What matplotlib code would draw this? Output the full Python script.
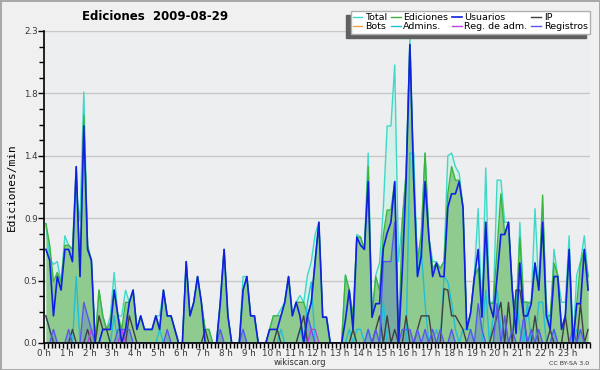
import numpy as np
import matplotlib
matplotlib.use("Agg")
import matplotlib.pyplot as plt
from matplotlib.ticker import MultipleLocator, FixedLocator

# 10-minute slots over the day (144 values per series)
total = [
    0.88, 0.62, 0.58, 0.60, 0.45, 0.79, 0.72, 0.69, 1.10, 0.90, 1.85, 0.69,
    0.60, 0.00, 0.39, 0.20, 0.10, 0.20, 0.52, 0.20, 0.20, 0.39, 0.30, 0.39,
    0.10, 0.20, 0.10, 0.10, 0.10, 0.20, 0.20, 0.39, 0.20, 0.20, 0.10, 0.00,
    0.00, 0.60, 0.20, 0.30, 0.49, 0.30, 0.10, 0.10, 0.00, 0.00, 0.30, 0.69,
    0.20, 0.00, 0.00, 0.00, 0.49, 0.49, 0.20, 0.20, 0.00, 0.00, 0.00, 0.10,
    0.20, 0.20, 0.25, 0.30, 0.49, 0.20, 0.30, 0.35, 0.30, 0.50, 0.60, 0.80,
    0.89, 0.19, 0.19, 0.00, 0.00, 0.00, 0.00, 0.50, 0.39, 0.10, 0.80, 0.78,
    0.69, 1.40, 0.19, 0.50, 0.59, 1.00, 1.60, 1.60, 2.05, 0.60, 0.90, 1.25,
    2.25, 1.20, 0.60, 0.80, 1.40, 0.78, 0.60, 0.60, 0.55, 0.60, 1.38, 1.40,
    1.30, 1.25, 1.00, 0.10, 0.22, 0.50, 0.99, 0.20, 1.29, 0.30, 0.30, 1.20,
    1.20, 0.89, 0.89, 0.39, 0.10, 0.89, 0.30, 0.30, 0.30, 0.99, 0.40, 1.00,
    0.30, 0.10, 0.69, 0.49, 0.30, 0.30, 0.79, 0.00, 0.50, 0.60, 0.79, 0.49,
]
ediciones = [
    0.88, 0.72, 0.45, 0.52, 0.45, 0.72, 0.72, 0.69, 1.30, 0.49, 1.68, 0.72,
    0.61, 0.00, 0.39, 0.20, 0.10, 0.15, 0.39, 0.20, 0.10, 0.30, 0.30, 0.39,
    0.10, 0.20, 0.10, 0.10, 0.10, 0.20, 0.10, 0.39, 0.20, 0.20, 0.10, 0.00,
    0.00, 0.60, 0.20, 0.30, 0.49, 0.30, 0.10, 0.10, 0.00, 0.00, 0.30, 0.69,
    0.20, 0.00, 0.00, 0.00, 0.39, 0.49, 0.20, 0.20, 0.00, 0.00, 0.00, 0.10,
    0.20, 0.20, 0.20, 0.30, 0.49, 0.20, 0.30, 0.30, 0.30, 0.20, 0.30, 0.60,
    0.89, 0.19, 0.19, 0.00, 0.00, 0.00, 0.00, 0.50, 0.39, 0.20, 0.78, 0.78,
    0.69, 1.30, 0.19, 0.49, 0.39, 0.80, 0.98, 0.98, 1.19, 0.00, 0.90, 1.25,
    2.20, 1.20, 0.60, 0.80, 1.40, 0.78, 0.55, 0.59, 0.55, 0.60, 1.10, 1.30,
    1.20, 1.20, 1.00, 0.10, 0.22, 0.49, 0.55, 0.20, 0.89, 0.29, 0.29, 0.69,
    1.10, 0.80, 0.89, 0.39, 0.20, 0.78, 0.30, 0.30, 0.29, 0.59, 0.39, 1.09,
    0.20, 0.20, 0.59, 0.50, 0.10, 0.20, 0.69, 0.00, 0.29, 0.59, 0.69, 0.49,
]
usuarios = [
    0.69, 0.61, 0.20, 0.49, 0.39, 0.69, 0.69, 0.60, 1.30, 0.49, 1.60, 0.69,
    0.61, 0.00, 0.00, 0.10, 0.10, 0.10, 0.39, 0.20, 0.00, 0.10, 0.30, 0.39,
    0.10, 0.20, 0.10, 0.10, 0.10, 0.20, 0.10, 0.39, 0.20, 0.20, 0.10, 0.00,
    0.00, 0.60, 0.20, 0.30, 0.49, 0.30, 0.00, 0.00, 0.00, 0.00, 0.30, 0.69,
    0.20, 0.00, 0.00, 0.00, 0.39, 0.49, 0.20, 0.20, 0.00, 0.00, 0.00, 0.10,
    0.10, 0.10, 0.20, 0.30, 0.49, 0.20, 0.30, 0.20, 0.00, 0.20, 0.30, 0.60,
    0.89, 0.19, 0.19, 0.00, 0.00, 0.00, 0.00, 0.17, 0.39, 0.10, 0.78, 0.72,
    0.69, 1.19, 0.19, 0.29, 0.29, 0.70, 0.81, 0.89, 1.19, 0.00, 0.54, 1.20,
    2.20, 1.20, 0.49, 0.64, 1.19, 0.78, 0.49, 0.59, 0.49, 0.49, 1.00, 1.10,
    1.10, 1.19, 1.00, 0.10, 0.22, 0.48, 0.69, 0.19, 0.89, 0.29, 0.19, 0.49,
    0.80, 0.80, 0.89, 0.39, 0.07, 0.59, 0.20, 0.20, 0.29, 0.59, 0.39, 0.89,
    0.20, 0.10, 0.49, 0.49, 0.10, 0.20, 0.69, 0.00, 0.29, 0.29, 0.69, 0.39,
]
ip = [
    0.20, 0.10, 0.00, 0.00, 0.00, 0.00, 0.00, 0.10, 0.00, 0.00, 0.00, 0.10,
    0.00, 0.00, 0.20, 0.10, 0.10, 0.00, 0.00, 0.00, 0.00, 0.00, 0.20, 0.10,
    0.00, 0.00, 0.00, 0.00, 0.00, 0.00, 0.00, 0.00, 0.00, 0.00, 0.00, 0.00,
    0.00, 0.00, 0.00, 0.00, 0.00, 0.00, 0.10, 0.00, 0.00, 0.00, 0.00, 0.00,
    0.00, 0.00, 0.00, 0.00, 0.00, 0.00, 0.00, 0.00, 0.00, 0.00, 0.00, 0.00,
    0.00, 0.10, 0.00, 0.00, 0.00, 0.00, 0.00, 0.10, 0.20, 0.00, 0.00, 0.00,
    0.00, 0.00, 0.00, 0.00, 0.00, 0.00, 0.00, 0.00, 0.00, 0.10, 0.00, 0.00,
    0.00, 0.00, 0.00, 0.10, 0.20, 0.00, 0.20, 0.00, 0.10, 0.00, 0.00, 0.20,
    0.00, 0.00, 0.10, 0.20, 0.20, 0.20, 0.00, 0.00, 0.00, 0.40, 0.39, 0.20,
    0.20, 0.15, 0.10, 0.00, 0.00, 0.00, 0.00, 0.00, 0.00, 0.00, 0.10, 0.20,
    0.30, 0.00, 0.30, 0.00, 0.39, 0.39, 0.20, 0.00, 0.00, 0.20, 0.00, 0.00,
    0.00, 0.10, 0.00, 0.00, 0.00, 0.20, 0.00, 0.00, 0.00, 0.29, 0.00, 0.10,
]
bots = [0.0] * 144
admins = [
    0.20, 0.10, 0.00, 0.00, 0.00, 0.00, 0.00, 0.00, 0.49, 0.00, 0.00, 0.00,
    0.00, 0.00, 0.00, 0.00, 0.00, 0.00, 0.20, 0.00, 0.00, 0.00, 0.00, 0.00,
    0.00, 0.00, 0.00, 0.00, 0.00, 0.00, 0.10, 0.00, 0.00, 0.00, 0.00, 0.00,
    0.00, 0.00, 0.00, 0.00, 0.00, 0.00, 0.00, 0.00, 0.00, 0.00, 0.00, 0.00,
    0.00, 0.00, 0.00, 0.00, 0.00, 0.00, 0.00, 0.00, 0.00, 0.00, 0.00, 0.00,
    0.00, 0.00, 0.10, 0.00, 0.00, 0.00, 0.00, 0.10, 0.00, 0.30, 0.45, 0.00,
    0.00, 0.00, 0.00, 0.00, 0.00, 0.00, 0.00, 0.00, 0.10, 0.00, 0.10, 0.10,
    0.00, 0.10, 0.00, 0.00, 0.00, 0.30, 0.00, 0.00, 0.00, 0.00, 0.00, 0.00,
    1.40, 1.40, 0.49, 0.69, 0.29, 0.00, 0.00, 0.10, 0.00, 0.49, 0.45, 0.30,
    0.10, 0.00, 0.10, 0.10, 0.10, 0.00, 0.00, 0.00, 0.39, 0.00, 0.19, 0.39,
    0.10, 0.00, 0.00, 0.00, 0.39, 0.10, 0.00, 0.30, 0.00, 0.00, 0.30, 0.30,
    0.00, 0.00, 0.10, 0.00, 0.00, 0.00, 0.00, 0.00, 0.10, 0.00, 0.00, 0.00,
]
reg_adm = [0.0] * 144
for k in (12, 20, 70, 71):
    reg_adm[k] = 0.1
registros = [
    0.00, 0.00, 0.10, 0.00, 0.00, 0.00, 0.10, 0.00, 0.00, 0.00, 0.30, 0.20,
    0.10, 0.00, 0.00, 0.00, 0.00, 0.00, 0.00, 0.10, 0.10, 0.10, 0.10, 0.00,
    0.00, 0.00, 0.00, 0.00, 0.00, 0.00, 0.00, 0.00, 0.10, 0.00, 0.00, 0.00,
    0.00, 0.00, 0.00, 0.00, 0.00, 0.00, 0.00, 0.00, 0.00, 0.00, 0.10, 0.00,
    0.00, 0.00, 0.00, 0.00, 0.10, 0.00, 0.00, 0.00, 0.00, 0.00, 0.00, 0.00,
    0.00, 0.00, 0.00, 0.00, 0.00, 0.00, 0.00, 0.00, 0.00, 0.20, 0.10, 0.00,
    0.00, 0.00, 0.00, 0.00, 0.00, 0.00, 0.00, 0.00, 0.00, 0.00, 0.00, 0.00,
    0.00, 0.10, 0.00, 0.10, 0.00, 0.60, 0.60, 0.60, 0.89, 0.00, 0.10, 0.10,
    0.10, 0.00, 0.10, 0.00, 0.10, 0.00, 0.10, 0.00, 0.10, 0.00, 0.00, 0.10,
    0.00, 0.00, 0.00, 0.00, 0.10, 0.00, 0.29, 0.10, 0.00, 0.00, 0.00, 0.29,
    0.00, 0.20, 0.00, 0.10, 0.00, 0.00, 0.19, 0.00, 0.10, 0.00, 0.10, 0.00,
    0.00, 0.00, 0.10, 0.00, 0.00, 0.00, 0.00, 0.10, 0.00, 0.10, 0.00, 0.00,
]

hours = np.arange(144) / 6.0 + 1.0 / 12.0

fig = plt.figure(figsize=(6, 3.7), dpi=100, facecolor='#f0f0f0',
                 edgecolor='#a8a8a8', linewidth=2)
ax = fig.add_axes([44 / 600, 27 / 370, 546 / 600, 312 / 370])
ax.set_facecolor('#eceef0')

# area series first, then lines on top
ax.fill_between(hours, total, color='#d6efe8', lw=0)
ax.plot(hours, total, color='#3fd8c8', lw=1.0, label='Total')
ax.fill_between(hours, ediciones, color='#8fca8f', lw=0)
ax.plot(hours, ediciones, color='#3cb43c', lw=1.0, label='Ediciones')
ax.fill_between(hours, registros, color='#3050e0', alpha=0.25, lw=0)
ax.plot(hours, bots, color='#f0a040', lw=1.0, label='Bots')
ax.plot(hours, admins, color='#20c0d8', lw=1.0, label='Admins.')
ax.plot(hours, ip, color='#404040', lw=1.0, label='IP')
ax.plot(hours, reg_adm, color='#c040e0', lw=1.0, label='Reg. de adm.')
ax.plot(hours, registros, color='#5858f0', lw=1.0, label='Registros')
ax.plot(hours, usuarios, color='#1020e0', lw=1.2, label='Usuarios')

ax.set_xlim(0, 24)
ax.set_ylim(0, 2.3)

yt = [0, 0.46, 0.92, 1.38, 1.84, 2.3]
ax.yaxis.set_major_locator(FixedLocator(yt))
ax.set_yticklabels(['0.0', '0.5', '0.9', '1.4', '1.8', '2.3'])
ax.yaxis.set_minor_locator(MultipleLocator(0.115))
ax.set_xticks(np.arange(24))
ax.set_xticklabels(['%d h' % h for h in range(24)])
ax.xaxis.set_minor_locator(MultipleLocator(1 / 6))
ax.grid(axis='y', which='major', color='#c8c8c8', lw=1)
ax.set_axisbelow(True)

for s in ('top', 'right'):
    ax.spines[s].set_visible(False)
ax.spines['left'].set_linewidth(1.2)
ax.spines['bottom'].set_linewidth(1.2)
ax.tick_params(axis='both', which='major', length=4, width=1, labelsize=6.3,
               color='black', labelcolor='#383838', pad=0.5)
ax.tick_params(axis='both', which='minor', length=3.5, width=1)

ax.set_ylabel('Ediciones/min', fontsize=8, family='DejaVu Sans Mono', labelpad=5)

fig.text(155 / 600, 1 - 16 / 370, 'Ediciones  2009-08-29', ha='center', va='center',
         fontsize=8.5, fontweight='bold')
fig.text(300 / 600, 1 - 367 / 370, 'wikiscan.org', ha='center', va='bottom',
         fontsize=6, color='#303030')
fig.text(589 / 600, 1 - 366 / 370, 'CC BY-SA 3.0', ha='right', va='bottom',
         fontsize=4.5, color='#303030')

h, l = ax.get_legend_handles_labels()
order = ['Total', 'Bots', 'Ediciones', 'Admins.', 'Usuarios', 'Reg. de adm.', 'IP', 'Registros']
hd = dict(zip(l, h))
leg = ax.legend([hd[k] for k in order], order, ncol=4, loc='upper right',
                bbox_to_anchor=(590 / 600, 1 - 11 / 370), bbox_transform=fig.transFigure,
                fontsize=6.8, frameon=True, fancybox=False,
                shadow={'color': '#606060', 'alpha': 1, 'ox': -3, 'oy': -3},
                handlelength=1.0, handletextpad=0.3, columnspacing=0.4, labelspacing=0.0,
                borderpad=0.25, borderaxespad=0)
leg.get_frame().set_facecolor('white')
leg.get_frame().set_edgecolor('#b0b0b0')
leg.get_frame().set_alpha(1)

fig.savefig('out.png', dpi=100, facecolor=fig.get_facecolor(), edgecolor=fig.get_edgecolor())
